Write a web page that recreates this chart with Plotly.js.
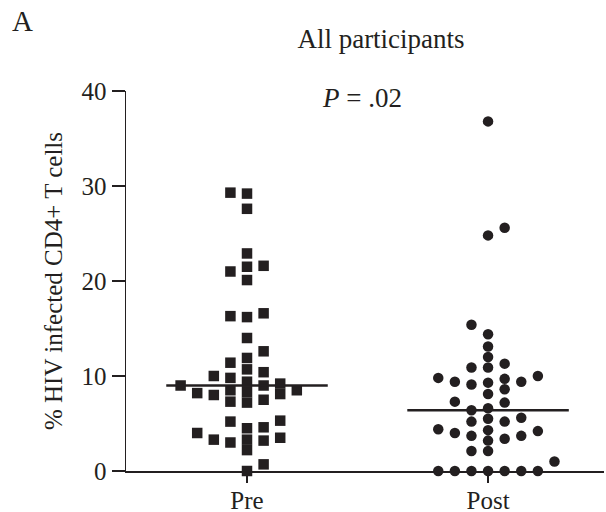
<!DOCTYPE html>
<html><head><meta charset="utf-8">
<script src="https://cdn.plot.ly/plotly-3.0.1.min.js"></script>
<style>html,body{margin:0;padding:0;background:#fff}#chart{width:606px;height:512px}</style>
</head><body><div id="chart"></div>
<script>
// ---- data ----
const categories = ["Pre", "Post"];
const preValues = [29.3, 29.2, 27.6, 22.9, 21.5, 21.6, 21.0, 20.1, 16.3, 16.2, 16.6, 14.0, 12.6, 11.9, 11.4,
  10.7, 10.4, 9.8, 10.0, 9.4, 9.2, 9.0, 9.0, 8.5, 8.2, 8.0, 8.1, 8.3, 8.5, 7.3, 7.2, 7.5, 5.3, 5.2, 4.6,
  4.5, 4.0, 3.5, 3.3, 3.0, 3.2, 3.3, 2.2, 0.7, 0];
const postValues = [36.8, 25.6, 24.8, 15.4, 14.4, 13.1, 12.0, 11.3, 10.9, 10.9, 9.8, 9.4, 9.3, 9.1, 9.4,
  9.7, 10.0, 8.6, 8.1, 7.2, 7.3, 6.6, 6.4, 5.6, 5.5, 5.2, 5.2, 4.3, 4.0, 3.4, 3.7, 3.7, 3.2, 4.2, 4.4,
  2.1, 2.1, 1.0, 0, 0, 0, 0, 0, 0, 0];
const yTickValues = [0, 10, 20, 30, 40];
const chartTitle = "All participants";
const panelLabel = "A";
const pValueText = "<i>P</i> = .02";
const yTitle = "% HIV infected CD4+ T cells";

// ---- layout geometry ----
const W = 606, H = 512;
const M = {l: 126, r: 2, t: 91, b: 41};
const xRange = [-0.502, 1.481];
const yRange = [0, 40];
const plotW = W - M.l - M.r, plotH = H - M.t - M.b;
const pxPerX = plotW / (xRange[1] - xRange[0]);
const pxPerY = plotH / (yRange[1] - yRange[0]);
const ink = "#231f20";
const serif = "Liberation Serif, Times New Roman, serif";
const markerPx = 10.5;
const slotPx = 8.3;

// beeswarm: assign each point a horizontal slot so symbols do not pile up
function swarm(vals) {
  const order = vals.map((_, i) => i).sort((a, b) => vals[a] - vals[b]);
  const placed = [];
  const slot = new Array(vals.length);
  let flip = 1;
  order.forEach(i => {
    const y = vals[i] * pxPerY;
    for (let c = 0; c < 200; c++) {
      const cands = c === 0 ? [0] : [c * flip, -c * flip];
      const k = cands.find(kk => placed.every(p =>
        Math.abs(p.k - kk) * slotPx >= markerPx - 0.5 || Math.abs(p.y - y) >= markerPx - 0.5));
      if (k !== undefined) {
        slot[i] = k; placed.push({k, y});
        if (k !== 0) flip = -Math.sign(k);
        break;
      }
    }
  });
  return slot;
}
function median(vals) {
  const s = vals.slice().sort((a, b) => a - b);
  const n = s.length;
  return n % 2 ? s[(n - 1) / 2] : (s[n / 2 - 1] + s[n / 2]) / 2;
}

const groups = [preValues, postValues];
const symbols = ["square", "circle"];
const traces = [];
groups.forEach((vals, ci) => {
  const slots = swarm(vals);
  traces.push({
    type: "scatter", mode: "markers", cliponaxis: false, hoverinfo: "y",
    x: slots.map(k => ci + k * slotPx / pxPerX), y: vals,
    marker: {symbol: symbols[ci], size: markerPx, color: ink, line: {width: 0}},
    showlegend: false
  });
  const med = median(vals);
  traces.push({
    type: "scatter", mode: "lines", cliponaxis: false, hoverinfo: "skip",
    x: [ci - 0.335, ci + 0.335], y: [med, med],
    line: {color: ink, width: 2.5}, showlegend: false
  });
});

const layout = {
  width: W, height: H, margin: M,
  paper_bgcolor: "#fff", plot_bgcolor: "#fff",
  font: {family: serif, color: ink},
  title: {text: chartTitle, font: {family: serif, size: 27, color: ink},
          x: 381 / W, xref: "container", xanchor: "center", y: 1 - 39 / H, yref: "container", yanchor: "middle"},
  xaxis: {range: xRange, tickvals: [0, 1], ticktext: categories, ticks: "outside", ticklen: 10,
          tickwidth: 1.5, tickcolor: ink, showline: true, linecolor: ink, linewidth: 1.5,
          showgrid: false, zeroline: false, layer: "below traces", ticklabelstandoff: -4,
          tickfont: {family: serif, size: 25, color: ink}},
  yaxis: {range: yRange, tickvals: yTickValues, ticks: "outside", ticklen: 13, tickwidth: 1.5,
          tickcolor: ink, showline: true, linecolor: ink, linewidth: 1.5, showgrid: false,
          zeroline: false, layer: "below traces",
          tickfont: {family: serif, size: 25, color: ink},
          title: {text: yTitle, font: {family: serif, size: 25, color: ink}, standoff: 12}},
  annotations: [
    {text: panelLabel, xref: "paper", yref: "paper", x: (22 - M.l) / plotW, y: (H - M.b - 21) / plotH,
     xanchor: "center", yanchor: "middle", showarrow: false, font: {family: serif, size: 29, color: ink}},
    {text: pValueText, xref: "x", yref: "y", x: 0.477, y: 39.3, xanchor: "center", yanchor: "middle",
     showarrow: false, font: {family: serif, size: 27, color: ink}}
  ]
};
Plotly.newPlot("chart", traces, layout, {displayModeBar: false, staticPlot: true});
</script></body></html>
